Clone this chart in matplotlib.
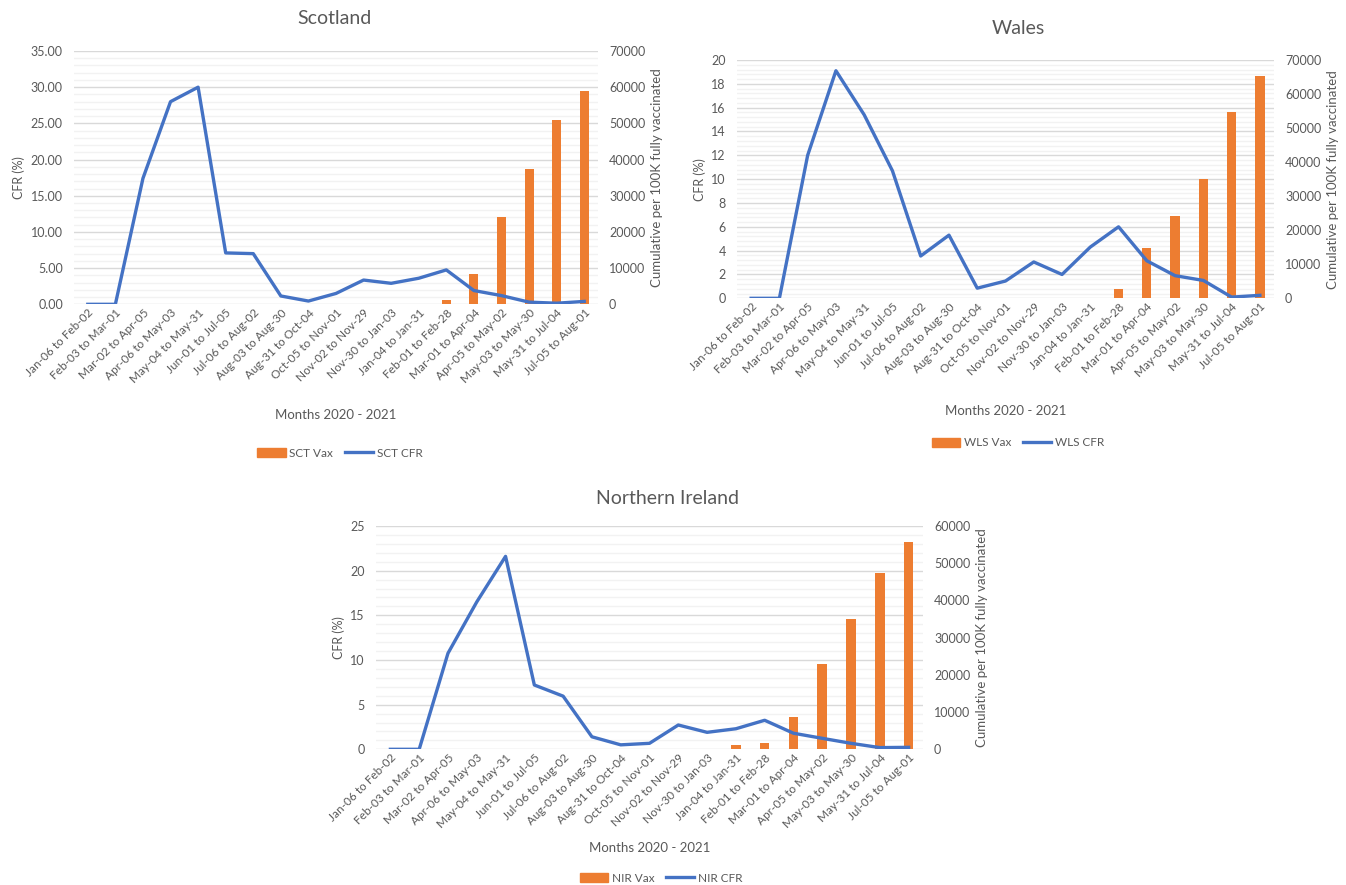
import matplotlib
matplotlib.use("Agg")
import matplotlib.pyplot as plt
from matplotlib.patches import Patch
from matplotlib.lines import Line2D
from matplotlib.ticker import MultipleLocator, FormatStrFormatter
import numpy as np

plt.rcParams['font.family'] = ['Lato', 'DejaVu Sans']

# four-week periods, 2020 - 2021
periods = ['Jan-06 to Feb-02', 'Feb-03 to Mar-01', 'Mar-02 to Apr-05', 'Apr-06 to May-03',
           'May-04 to May-31', 'Jun-01 to Jul-05', 'Jul-06 to Aug-02', 'Aug-03 to Aug-30',
           'Aug-31 to Oct-04', 'Oct-05 to Nov-01', 'Nov-02 to Nov-29', 'Nov-30 to Jan-03',
           'Jan-04 to Jan-31', 'Feb-01 to Feb-28', 'Mar-01 to Apr-04', 'Apr-05 to May-02',
           'May-03 to May-30', 'May-31 to Jul-04', 'Jul-05 to Aug-01']

# case fatality rate (%)
sct_cfr = [0, 0, 17.4, 28.0, 30.0, 7.1, 7.0, 1.15, 0.45, 1.5, 3.35, 2.9, 3.6, 4.75, 1.9, 1.2, 0.3, 0.15, 0.4]
wls_cfr = [0, 0, 12.0, 19.1, 15.4, 10.7, 3.55, 5.3, 0.85, 1.45, 3.05, 2.0, 4.3, 6.0, 3.15, 1.9, 1.5, 0.1, 0.25]
nir_cfr = [0, 0, 10.75, 16.5, 21.6, 7.2, 5.95, 1.4, 0.5, 0.67, 2.72, 1.9, 2.3, 3.25, 1.8, 1.23, 0.67, 0.19, 0.22]

# cumulative fully vaccinated per 100K
sct_vax = [0, 0, 0, 0, 0, 0, 0, 0, 0, 0, 0, 0, 150, 1200, 8300, 24200, 37400, 50900, 58900]
wls_vax = [0, 0, 0, 0, 0, 0, 0, 0, 0, 0, 0, 0, 0, 2650, 14700, 24300, 35100, 54600, 65400]
nir_vax = [0, 0, 0, 0, 0, 0, 0, 0, 0, 0, 0, 0, 1150, 1600, 8600, 22800, 35000, 47500, 55600]

ORANGE = '#ED7D31'
BLUE = '#4472C4'
TXT = '#595959'


def panel(fig, rect, title, title_xy, cfr, vax, code, cfr_max, cfr_major, cfr_minor,
          cfr_fmt, vax_max, xlabel_y, legend_xy):
    x = np.arange(len(periods))

    ax = fig.add_axes(rect)
    ax.set_xlim(-0.5, len(periods) - 0.5)
    ax.set_ylim(0, cfr_max)
    ax.yaxis.set_major_locator(MultipleLocator(cfr_major))
    ax.yaxis.set_minor_locator(MultipleLocator(cfr_minor))
    ax.yaxis.set_major_formatter(FormatStrFormatter(cfr_fmt))
    ax.grid(True, which='major', axis='y', color='#D9D9D9', lw=1.0)
    ax.grid(True, which='minor', axis='y', color='#F2F2F2', lw=1.0)
    for s in ax.spines.values():
        s.set_visible(False)
    ax.tick_params(axis='y', which='both', length=0, labelsize=9, labelcolor=TXT, pad=8)
    ax.tick_params(axis='x', length=0, labelsize=8.5, labelcolor=TXT, pad=2)
    ax.set_xticks(x)
    ax.set_xticklabels(periods, rotation=45, ha='right', rotation_mode='anchor')
    ax.set_ylabel('CFR (%)', color=TXT, fontsize=9)
    ax.set_xlabel('Months 2020 - 2021', color=TXT, fontsize=9.5)
    ax.xaxis.set_label_coords(0.5, xlabel_y)

    # bars on right axis
    ax2 = ax.twinx()
    ax2.bar(x, vax, width=0.33, color=ORANGE)
    ax2.set_ylim(0, vax_max)
    ax2.yaxis.set_major_locator(MultipleLocator(10000))
    ax2.tick_params(axis='y', length=0, labelsize=9, labelcolor=TXT, pad=8)
    for s in ax2.spines.values():
        s.set_visible(False)
    ax2.set_ylabel('Cumulative per 100K fully vaccinated', color=TXT, fontsize=9.5)

    # line drawn on top of the bars, same scale as left axis
    ax3 = ax.twinx()
    ax3.plot(x, cfr, color=BLUE, lw=2.4, solid_joinstyle='round')
    ax3.set_ylim(ax.get_ylim())
    ax3.set_yticks([])
    for s in ax3.spines.values():
        s.set_visible(False)

    fig.text(title_xy[0], title_xy[1], title, ha='center', va='center', fontsize=14, color=TXT)

    handles = [Patch(color=ORANGE, label=code + ' Vax'),
               Line2D([], [], color=BLUE, lw=2.4, label=code + ' CFR')]
    fig.legend(handles=handles, loc='center', bbox_to_anchor=legend_xy, ncol=2,
               frameon=False, fontsize=8.5, labelcolor=TXT, handlelength=2.4,
               handletextpad=0.3, columnspacing=1.0)


fig = plt.figure(figsize=(13.46, 8.85), dpi=100)
W, H = 1346, 885

panel(fig, [74 / W, 1 - 304.3 / H, 524 / W, 253.3 / H], 'Scotland', (334 / W, 1 - 19 / H),
      sct_cfr, sct_vax, 'SCT', 35, 5, 1, '%.2f', 70000, -0.413, (340 / W, 1 - 453 / H))
panel(fig, [737 / W, 1 - 298.3 / H, 537 / W, 238.3 / H], 'Wales', (1018 / W, 1 - 29 / H),
      wls_cfr, wls_vax, 'WLS', 20, 2, 0.4, '%d', 70000, -0.448, (1018 / W, 1 - 443 / H))
panel(fig, [376 / W, 1 - 749.3 / H, 547 / W, 223.3 / H], 'Northern Ireland', (667 / W, 1 - 498 / H),
      nir_cfr, nir_vax, 'NIR', 25, 5, 1, '%d', 60000, -0.415, (661 / W, 1 - 878 / H))

fig.savefig('out.png', dpi=100, facecolor='white')
